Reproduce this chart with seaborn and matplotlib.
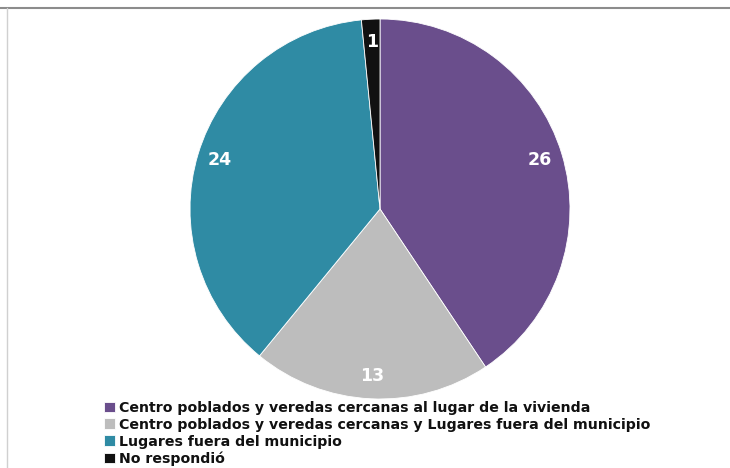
import numpy as np
import seaborn as sns
import matplotlib.pyplot as plt
from matplotlib.lines import Line2D

categories = [
    'Centro poblados y veredas cercanas al lugar de la vivienda',
    'Centro poblados y veredas cercanas y Lugares fuera del municipio',
    'Lugares fuera del municipio',
    'No respondió',
]
values = [26, 13, 24, 1]
colors = ['#6A4E8C', '#BDBDBD', '#2F8BA4', '#111111']

sns.set_theme(style='white')
plt.rcParams['font.family'] = ['DejaVu Sans']

fig = plt.figure(figsize=(7.3, 4.68), dpi=100)
ax = fig.add_axes([(380 - 190) / 730, 1 - (209 + 190) / 468, 380 / 730, 380 / 468])

wedges, texts = ax.pie(values, colors=colors, startangle=90, counterclock=False,
                       wedgeprops=dict(edgecolor='white', linewidth=0.6))
for w, v in zip(wedges, values):
    ang = np.deg2rad((w.theta1 + w.theta2) / 2)
    ax.text(0.88 * np.cos(ang), 0.88 * np.sin(ang), str(v), ha='center', va='center',
            color='white', fontsize=12.5, fontweight='bold')
ax.set_xlim(-1, 1)
ax.set_ylim(-1, 1)
ax.set_aspect('equal')

# frame lines of the original slide
fig.add_artist(Line2D([0, 1], [1 - 8 / 468, 1 - 8 / 468], color='#8C8C8C', lw=1.5))
fig.add_artist(Line2D([7 / 730, 7 / 730], [0, 1 - 8 / 468], color='#D0D0D0', lw=1))

leg = fig.legend(wedges, categories, loc='upper left', bbox_to_anchor=(104 / 730, 1 - 401 / 468),
                 frameon=False, prop=dict(size=10.2, weight='bold'), handlelength=0.8,
                 handleheight=0.8, handletextpad=0.25, labelspacing=0.2, borderpad=0,
                 borderaxespad=0)
for t in leg.get_texts():
    t.set_color('#111111')

fig.savefig('out.png', dpi=100)
